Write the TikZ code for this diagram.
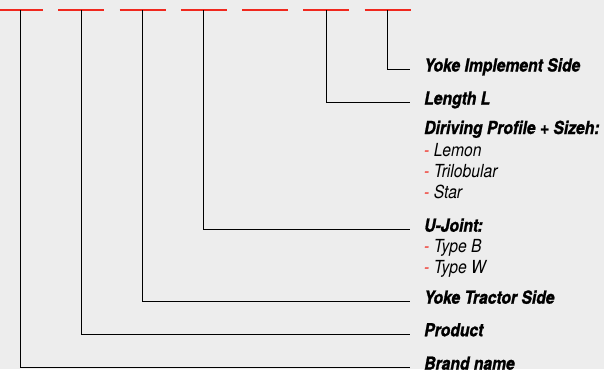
\documentclass[tikz,border=0pt]{standalone}
\usepackage{fontspec}
\setmainfont{TeX Gyre Heros}[FakeStretch=0.87, BoldItalicFeatures={FakeBold=1.2}]
\definecolor{codered}{RGB}{240,40,30}
\definecolor{paper}{RGB}{237,237,237}
\tikzset{
	heading/.style={anchor=west, inner xsep=14pt, inner ysep=0pt, text height=9pt, text depth=5pt, font=\fontsize{18}{20}\selectfont\bfseries\itshape},
	option/.style={anchor=base west, inner sep=0pt, font=\fontsize{18}{20}\selectfont\itshape}
}
\newcommand{\opt}[1]{\textcolor{codered}{-} #1}

\begin{document}
\begin{tikzpicture}[x=1pt, y=-1pt]

					% background
					\fill [paper] (0,0) rectangle (604,369);
					\useasboundingbox (0,0) rectangle (604,369);

					% code fields
					\foreach \i in {1,...,7} {
						\coordinate (t\i) at ({20+61.25*(\i-1)},10);
						\draw [codered, line width=1.2pt] ([xshift=-23pt]t\i) -- ([xshift=23pt]t\i);
					}

					% labels
					\node [heading] (yis) at (410,69.5) {Yoke Implement Side};
					\node [heading] (len) at (410,102.5) {Length L};
					\node [heading] (prof) at (410,132) {Diriving Profile + Sizeh:};
					\node [option] (lemon) at (424,156.5) {\opt{Lemon}};
					\node [option] (trilob) at (424,177.5) {\opt{Trilobular}};
					\node [option] (star) at (424,198.5) {\opt{Star}};
					\node [heading] (uj) at (410,229.7) {U-Joint:};
					\node [option] (typeb) at (424,252.5) {\opt{Type B}};
					\node [option] (typew) at (424,273.5) {\opt{Type W}};
					\node [heading] (yts) at (410,301.7) {Yoke Tractor Side};
					\node [heading] (prod) at (410,334.3) {Product};
					\node [heading] (brand) at (410,367.7) {Brand name};

					% connectors
					\draw [line width=1pt] (t7) |- (yis.west);
					\draw [line width=1pt] (t6) |- (len.west);
					\draw [line width=1pt] (t4) |- (uj.west);
					\draw [line width=1pt] (t3) |- (yts.west);
					\draw [line width=1pt] (t2) |- (prod.west);
					\draw [line width=1pt] (t1) |- (brand.west);

				\end{tikzpicture}
\end{document}
